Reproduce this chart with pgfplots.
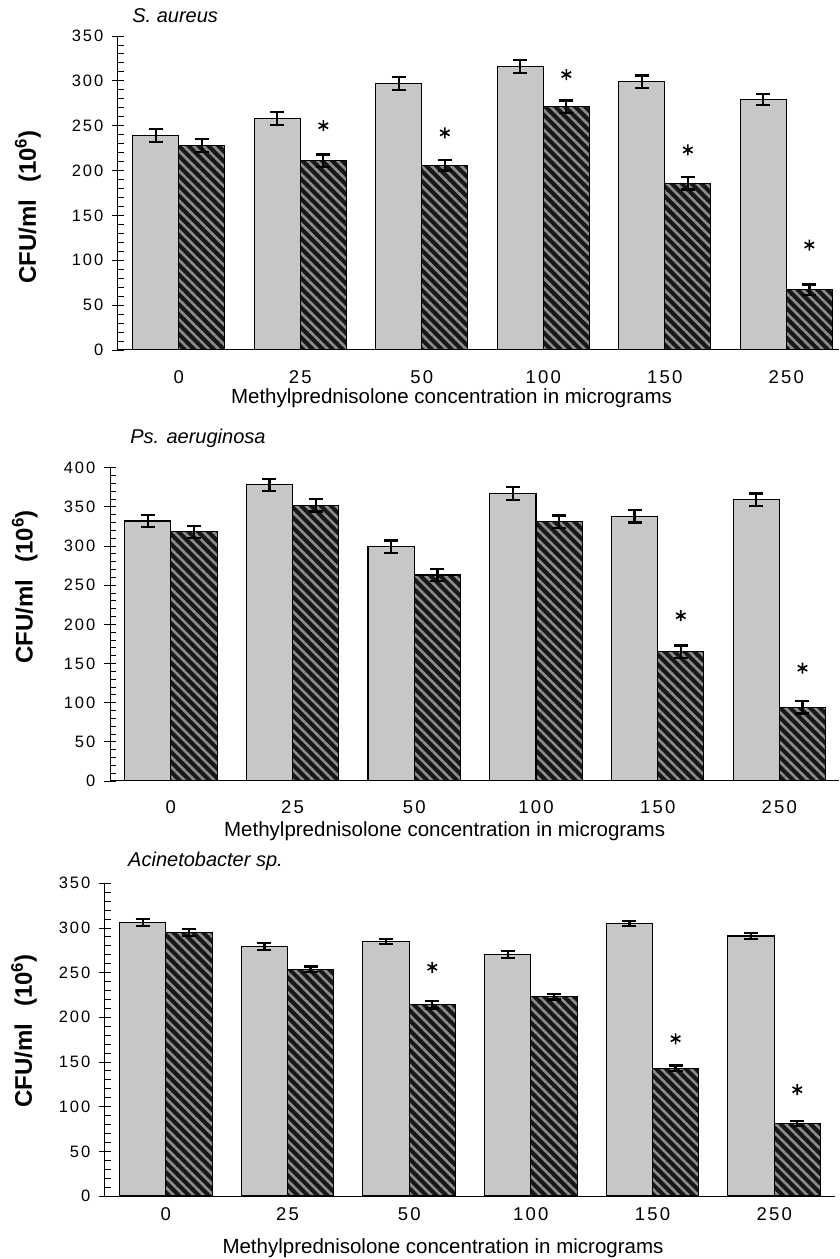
\documentclass[border=0pt]{standalone}
\usepackage{fontspec}
\setmainfont{Liberation Sans}
\newfontfamily\tickfont[LetterSpace=12]{Liberation Sans}
\usepackage{pgfplots}
\usepackage{pgfplotstable}
\pgfplotsset{compat=1.18}
\usetikzlibrary{patterns.meta}
\definecolor{lightbar}{gray}{0.78}
\definecolor{darkbar}{gray}{0.09}
\definecolor{stripe}{gray}{0.55}

% Panel 1: S. aureus
\pgfplotstableread{
x y e
0 239 7
1 258 7
2 297 7
3 316 7
4 299 7
5 279 6
}\saLight
\pgfplotstableread{
x y e
0 228 7
1 211 7
2 206 6
3 271 7
4 186 7
5 67 6
}\saDark
\pgfplotstableread{
x y
1.19 250
2.19 242
3.19 307
4.19 223
5.19 117
}\saStar
% Panel 2: Ps. aeruginosa
\pgfplotstableread{
x y e
0 332 8
1 378 8
2 299 8
3 367 8
4 338 8
5 359 8
}\psLight
\pgfplotstableread{
x y e
0 318 8
1 352 8
2 263 8
3 331 8
4 165 8
5 94 8
}\psDark
\pgfplotstableread{
x y
4.19 211
5.19 144
}\psStar
% Panel 3: Acinetobacter sp.
\pgfplotstableread{
x y e
0 306 4
1 279 4
2 285 3
3 270 4
4 305 3
5 291 3
}\acLight
\pgfplotstableread{
x y e
0 295 4
1 254 3
2 214 4
3 223 3
4 143 3
5 81 3
}\acDark
\pgfplotstableread{
x y
2.19 256
4.19 176
5.19 119
}\acStar

\pgfplotsset{
  panel/.style={
    scale only axis, anchor=south west,
    axis lines*=left,
    axis line style={line width=1pt, black},
    xmin=-0.5, ymin=0,
    xtick={0,...,5},
    xticklabels={0,25,50,100,150,250},
    xtick style={draw=none},
    extra x ticks={-0.5,0.5,1.5,2.5,3.5,4.5},
    extra x tick labels={},
    extra x tick style={tick align=outside, major tick length=6pt, tick style={line width=1pt, black}},
    ytick distance=50, minor y tick num=4,
    tick align=center,
    major tick length=11pt, minor tick length=6pt,
    minor y tick style={xshift=3pt},
    tick style={line width=0.9pt, black},
    /pgf/number format/assume math mode=true,
    yticklabel style={font=\tickfont\fontsize{16.5}{16.5}\selectfont, anchor=east, inner sep=0pt, xshift=-9pt},
    xticklabel style={font=\tickfont\fontsize{18.5}{18.5}\selectfont, anchor=center},
    xlabel={Methylprednisolone concentration in micrograms},
    xlabel style={font=\fontsize{20.5}{20.5}\selectfont, anchor=center},
    ylabel={\bfseries CFU/ml\hspace{0.7em}(10\textsuperscript{6})},
    ylabel style={font=\fontsize{24}{24}\selectfont, anchor=center},
    title style={font=\itshape\fontsize{20}{20}\selectfont, anchor=west},
  },
  lightbars/.style={ybar, bar width=0.38, bar shift=0pt, fill=lightbar, draw=black, line width=1.1pt},
  darkbars/.style={ybar, bar width=0.38, bar shift=0pt, draw=black, line width=1.1pt,
    preaction={fill=darkbar},
    pattern={Lines[angle=-45, distance=7pt, line width=2.6pt]}, pattern color=stripe},
  errs/.style={error bars/.cd, y dir=both, y explicit,
    error bar style={line width=2.3pt, black},
    error mark options={rotate=90, mark size=7pt, line width=2.3pt, black}},
  stars/.style={only marks, mark=asterisk, mark size=5.5pt, mark options={line width=1.6pt, black}, forget plot},
}

\begin{document}
\begin{tikzpicture}
\path[use as bounding box] (0,0) rectangle (839pt,1259pt);

% Panel 1
\begin{axis}[panel, at={(118pt,909pt)}, width=721pt, height=314pt,
  xmax=5.434, ymax=350,
  xticklabel style={yshift=-21.7pt},
  xlabel style={at={(axis description cs:0.4626,-0.153)}},
  ylabel style={at={(axis description cs:-0.125,0.455)}},
  title={S. aureus}, title style={at={(axis description cs:0.015,1.045)}}]
\addplot[lightbars, errs] table[x expr=\thisrow{x}-0.19, y=y, y error=e] {\saLight};
\addplot[darkbars, errs] table[x expr=\thisrow{x}+0.19, y=y, y error=e] {\saDark};
\addplot[stars] table[x=x, y=y] {\saStar};
\end{axis}

% Panel 2
\begin{axis}[panel, at={(110pt,478pt)}, width=729pt, height=313.3pt,
  xmax=5.49, ymax=400,
  xticklabel style={yshift=-20.7pt},
  xlabel style={at={(axis description cs:0.459,-0.16)}},
  ylabel style={at={(axis description cs:-0.117,0.62)}},
  title={Ps. aeruginosa}, title style={at={(axis description cs:0.023,1.076)}}]
\addplot[lightbars, errs] table[x expr=\thisrow{x}-0.19, y=y, y error=e] {\psLight};
\addplot[darkbars, errs] table[x expr=\thisrow{x}+0.19, y=y, y error=e] {\psDark};
\addplot[stars] table[x=x, y=y] {\psStar};
\end{axis}

% Panel 3
\begin{axis}[panel, at={(105pt,63pt)}, width=730pt, height=312.7pt,
  xmax=5.5, ymax=350,
  xticklabel style={yshift=-13pt},
  xlabel style={at={(axis description cs:0.463,-0.166)}},
  ylabel style={at={(axis description cs:-0.111,0.528)}},
  title={Acinetobacter sp.}, title style={at={(axis description cs:0.027,1.052)}}]
\addplot[lightbars, errs] table[x expr=\thisrow{x}-0.19, y=y, y error=e] {\acLight};
\addplot[darkbars, errs] table[x expr=\thisrow{x}+0.19, y=y, y error=e] {\acDark};
\addplot[stars] table[x=x, y=y] {\acStar};
\end{axis}
\end{tikzpicture}
\end{document}
